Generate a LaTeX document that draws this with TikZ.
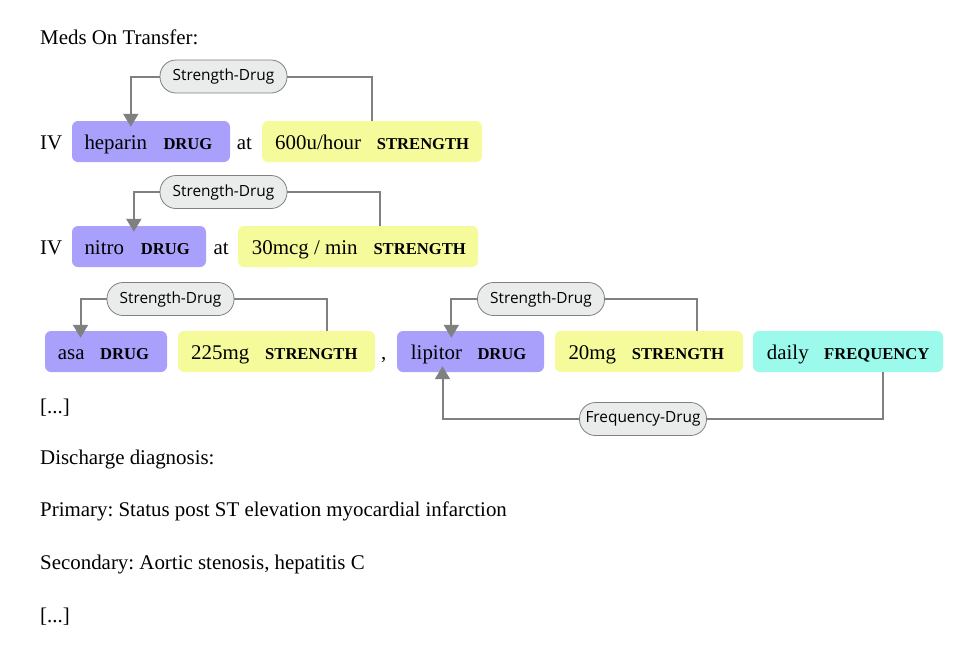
\documentclass[tikz,border=0pt]{standalone}
\usepackage{fontspec}
\setmainfont{Liberation Serif}
\newfontfamily\labfont{Open Sans}
\usetikzlibrary{arrows.meta}
\frenchspacing
\definecolor{drugc}{RGB}{169,160,252}
\definecolor{strc}{RGB}{245,250,155}
\definecolor{freqc}{RGB}{155,250,235}
\definecolor{labc}{RGB}{233,236,235}
\definecolor{linec}{RGB}{128,128,128}
\newcommand{\mainsz}{\fontsize{20.9}{24}\selectfont}
\newcommand{\typsz}{\fontsize{16.6}{20}\selectfont\bfseries}
\newcommand{\labsz}{\labfont\fontsize{15.4}{18}\selectfont}
\tikzset{
  txt/.style={anchor=base west, inner sep=0pt, font=\mainsz},
  typ/.style={anchor=base west, inner sep=0pt, font=\typsz},
  ent/.style={rectangle, rounded corners=6pt, draw=none, inner sep=0pt, minimum height=41pt},
  drugbox/.style={ent, fill=drugc},
  strbox/.style={ent, fill=strc},
  freqbox/.style={ent, fill=freqc},
  rellab/.style={rectangle, rounded corners=16pt, draw=linec, line width=0.8pt, fill=labc,
    minimum width=127pt, minimum height=33pt, inner sep=0pt, font=\labsz},
  rel/.style={draw=linec, line width=2pt},
  relarr/.style={rel, -{Triangle[length=13pt,width=15pt]}, color=linec},
}
\begin{document}
\begin{tikzpicture}[x=1pt,y=-1pt]
\useasboundingbox (0,0) rectangle (961,651);

% heading
\node[txt] (h1) at (40,44) {Meds On Transfer:};

% ---------- row 1 ----------
\node[drugbox, minimum width=158pt] (d1) at (151,141.5) {};
\node[strbox, minimum width=220pt] (s1) at (372,141.5) {};
\node[txt] (iv1) at (40,149) {IV};
\node[txt] (w1) at (84.3,149) {heparin};
\node[typ] (t1) at (163.3,149) {DRUG};
\node[txt] (at1) at (236.7,149) {at};
\node[txt] (w2) at (275,149) {600u/hour};
\node[typ] (t2) at (376.7,149) {STRENGTH};

% ---------- row 2 ----------
\node[drugbox, minimum width=134pt] (d2) at (139,246.5) {};
\node[strbox, minimum width=240pt] (s2) at (358,246.5) {};
\node[txt] (iv2) at (40,254) {IV};
\node[txt] (w3) at (84.3,254) {nitro};
\node[typ] (t3) at (140.7,254) {DRUG};
\node[txt] (at2) at (213.3,254) {at};
\node[txt] (w4) at (251.7,254) {30mcg / min};
\node[typ] (t4) at (373.3,254) {STRENGTH};

% ---------- row 3 ----------
\node[drugbox, minimum width=122pt] (d3) at (106,351.5) {};
\node[strbox, minimum width=197pt] (s3) at (276.5,351.5) {};
\node[drugbox, minimum width=147pt] (d4) at (470.5,351.5) {};
\node[strbox, minimum width=188pt] (s4) at (649,351.5) {};
\node[freqbox, minimum width=190pt] (f4) at (848,351.5) {};
\node[txt] (w5) at (57.7,359) {asa};
\node[typ] (t5) at (100,359) {DRUG};
\node[txt] (w6) at (191,359) {225mg};
\node[typ] (t6) at (265,359) {STRENGTH};
\node[txt] (cm) at (381,359) {,};
\node[txt] (w7) at (410.7,359) {lipitor};
\node[typ] (t7) at (477.3,359) {DRUG};
\node[txt] (w8) at (568.3,359) {20mg};
\node[typ] (t8) at (631.7,359) {STRENGTH};
\node[txt] (w9) at (766.7,359) {daily};
\node[typ] (t9) at (824,359) {FREQUENCY};

% relation labels
\node[rellab] (l1) at (223.5,76.5) {Strength-Drug};
\node[rellab] (l2) at (223.5,192) {Strength-Drug};
\node[rellab] (l3) at (170.5,299) {Strength-Drug};
\node[rellab] (l4) at (541,299) {Strength-Drug};
\node[rellab] (l5) at (643,419) {Frequency-Drug};

% connectors
\draw[rel] (s1.north) |- (l1.east);
\draw[relarr] (l1.west) -| ([xshift=59pt,yshift=-6pt]d1.north west);
\draw[rel] ([xshift=142pt]s2.north west) |- (l2.east);
\draw[relarr] (l2.west) -| ([xshift=62pt,yshift=-6pt]d2.north west);
\draw[rel] ([xshift=148.7pt]s3.north west) |- (l3.east);
\draw[relarr] (l3.west) -| ([xshift=35.7pt,yshift=-7pt]d3.north west);
\draw[rel] ([xshift=141.7pt]s4.north west) |- (l4.east);
\draw[relarr] (l4.west) -| ([xshift=54.5pt,yshift=-7pt]d4.north west);
\draw[rel] ([xshift=130.3pt]f4.south west) |- (l5.east);
\draw[relarr] (l5.west) -| ([xshift=45.7pt,yshift=6pt]d4.south west);

% trailing text
\node[txt] (e1) at (40,413.3) {[...]};
\node[txt] (dd) at (40,464.7) {Discharge diagnosis:};
\node[txt] (pr) at (40,516.7) {Primary: Status post ST elevation myocardial infarction};
\node[txt] (se) at (40,569) {Secondary: Aortic stenosis, hepatitis C};
\node[txt] (e2) at (40,622) {[...]};
\end{tikzpicture}
\end{document}
